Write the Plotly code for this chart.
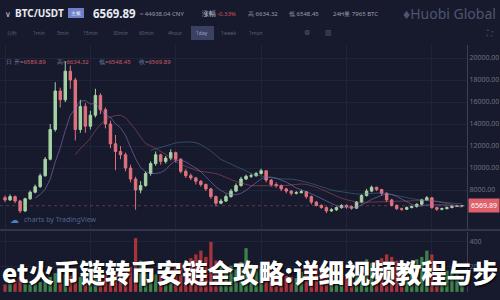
import plotly.graph_objects as go
import pandas as pd

# ---------------- data ----------------
closes = [7100, 7400, 7000, 6100, 7200, 7800, 8300, 9300, 10800, 13500,
          17000, 16200, 18800, 18000, 13500, 15600, 13800, 14800, 16600, 15300,
          14000, 12200, 11500, 11200, 10000, 9000, 8000, 8400, 9500, 10400,
          11200, 10600, 10900, 11400, 10800, 9700, 9300, 9100, 8800, 8500,
          8100, 7400, 6800, 7000, 7400, 7900, 8400, 9000, 9250, 9300,
          9500, 9750, 8900, 8500, 8400, 8100, 7900, 7700, 7750, 7850,
          7400, 6900, 6600, 6400, 6100, 6200, 6400, 6600, 6500, 6350,
          6900, 7500, 7900, 8250, 8050, 7700, 7100, 6600, 6300, 6250,
          6400, 6500, 6700, 7100, 7300, 6400, 6250, 6300, 6400, 6500,
          6550, 6569.89]
highs = [7500, 7600, 7500, 7100, 7300, 7950, 8500, 9500, 11000, 14000,
         17800, 17300, 19700, 19300, 18200, 16200, 15900, 15200, 17200, 16800,
         15500, 14300, 13000, 12000, 11400, 10300, 9200, 8800, 9700, 10600,
         11500, 11300, 11100, 11700, 11500, 10900, 9900, 9500, 9200, 8900,
         8600, 8200, 7500, 7200, 7600, 8100, 8600, 9200, 9400, 9500,
         9650, 9950, 9800, 9000, 8700, 8500, 8200, 8000, 7900, 8000,
         7900, 7500, 7000, 6700, 6500, 6350, 6500, 6700, 6700, 6600,
         7000, 7600, 8100, 8400, 8300, 8100, 7800, 7200, 6700, 6400,
         6500, 6600, 6800, 7200, 7450, 7350, 6500, 6400, 6500, 6600,
         6650, 6634.32]
lows = [6900, 7000, 6800, 5900, 6000, 7100, 7700, 8200, 9200, 10700,
        13300, 15500, 16000, 17200, 12500, 13200, 13200, 13500, 14600, 14900,
        13600, 11800, 9800, 10800, 9700, 8700, 6200, 7700, 8300, 9300,
        10200, 10300, 10400, 10700, 10500, 9500, 9100, 8900, 8500, 8300,
        7900, 7200, 6500, 6700, 6900, 7300, 7800, 8300, 8900, 9100,
        9200, 9400, 8700, 8300, 8200, 7900, 7700, 7500, 7600, 7700,
        7200, 6700, 6500, 6300, 5900, 6000, 6100, 6300, 6300, 6200,
        6300, 6800, 7400, 7800, 7900, 7500, 6900, 6500, 6200, 6100,
        6200, 6350, 6400, 6600, 7000, 6300, 6100, 6150, 6250, 6350,
        6450, 6548.45]
first_open = 7300
volumes = [60, 80, 90, 120, 70, 60, 70, 80, 90, 120,
           150, 110, 140, 130, 160, 120, 110, 100, 120, 100,
           130, 110, 150, 140, 170, 200, 430, 250, 180, 150,
           140, 160, 130, 120, 200, 230, 190, 270, 300, 330,
           280, 400, 250, 200, 190, 210, 180, 240, 350, 220,
           180, 200, 190, 170, 150, 140, 130, 120, 110, 160,
           180, 200, 230, 190, 170, 150, 140, 130, 120, 150,
           180, 200, 260, 230, 250, 270, 300, 280, 250, 220,
           200, 240, 260, 280, 330, 300, 220, 190, 170, 150,
           140, 130]
price_ticks = [8000, 10000, 12000, 14000, 16000, 18000, 20000]
price_tick_labels = ["8000.00", "10000.00", "12000.00",
                     "14000.00", "16000.00", "18000.00", "20000.00"]
vol_ticks = [200, 400]
vol_tick_labels = ["200", "400"]
last_price = 6569.89
toolbar_items = ["分时", "1min", "5min", "15min", "30min", "60min",
                 "4hour", "1day", "1week", "1mon"]
title_text = "et火币链转币安链全攻略:详细视频教程与步"

# --------------- derived ---------------
idx = list(range(len(closes)))
opens = [first_open] + closes[:-1]
up_col = "#a6d3a3"
dn_col = "#e0727e"
vol_up = "#3f7f4a"
vol_dn = "#a8333a"
vol_colors = [vol_up if c >= o else vol_dn for o, c in zip(opens, closes)]
s = pd.Series(closes)
ma_a = s.rolling(7).mean()
ma_b = s.rolling(15).mean()
ma_c = s.rolling(30).mean()

BG = "#161a2c"
GRID = "#1f2439"
AX = "#6b7088"
FONT = "Noto Sans"

fig = go.Figure()
fig.add_trace(go.Candlestick(
    x=idx, open=opens, high=highs, low=lows, close=closes,
    increasing=dict(line=dict(color=up_col, width=1), fillcolor=up_col),
    decreasing=dict(line=dict(color=dn_col, width=1), fillcolor=dn_col),
    whiskerwidth=0, xaxis="x", yaxis="y", showlegend=False, hoverinfo="skip"))
for ma, col in [(ma_a, "rgba(150,120,200,0.55)"), (ma_b, "rgba(200,90,120,0.45)"),
                (ma_c, "rgba(80,130,170,0.45)")]:
    fig.add_trace(go.Scatter(x=idx, y=ma, mode="lines", line=dict(color=col, width=1),
                             xaxis="x", yaxis="y", showlegend=False, hoverinfo="skip"))
fig.add_trace(go.Bar(x=idx, y=volumes, marker=dict(color=vol_colors, line=dict(width=0)),
                     xaxis="x2", yaxis="y2", showlegend=False, hoverinfo="skip"))

xdom = [0, 0.934]
fig.update_layout(
    width=500, height=300, margin=dict(l=0, r=0, t=0, b=0),
    paper_bgcolor=BG, plot_bgcolor=BG,
    font=dict(family=FONT, color=AX, size=7),
    bargap=0.35,
    xaxis=dict(domain=xdom, range=[-1, 92], showticklabels=False, rangeslider=dict(visible=False),
               showgrid=True, gridcolor=GRID, dtick=17, tick0=0, zeroline=False, anchor="y"),
    yaxis=dict(domain=[0.2333, 0.85], range=[4364, 21182], side="right", tickvals=price_ticks,
               ticktext=price_tick_labels, showgrid=True, gridcolor=GRID, zeroline=False,
               tickfont=dict(size=7, color=AX), showline=True, linecolor="#3a3f55", anchor="x"),
    xaxis2=dict(domain=xdom, range=[-1, 92], showticklabels=False, showgrid=True,
                gridcolor=GRID, dtick=17, tick0=0, zeroline=False, anchor="y2"),
    yaxis2=dict(domain=[0.027, 0.227], range=[0, 480], side="right", tickvals=vol_ticks,
                ticktext=vol_tick_labels, showgrid=True, gridcolor=GRID, zeroline=False,
                tickfont=dict(size=7, color=AX), showline=True, linecolor="#3a3f55", anchor="x2"),
)

shapes = []
shapes.append(dict(type="line", xref="x", yref="y", x0=-1, x1=92, y0=last_price, y1=last_price,
                   line=dict(color="rgba(224,114,126,0.35)", width=1, dash="dot")))
shapes.append(dict(type="line", xref="paper", yref="paper", x0=0, x1=1, y0=1 - 230 / 300,
                   y1=1 - 230 / 300, line=dict(color="#30354b", width=2)))
shapes.append(dict(type="rect", xref="paper", yref="paper", x0=191 / 500, x1=214 / 500,
                   y0=1 - 40 / 300, y1=1 - 26 / 300, fillcolor="#3a4163", line=dict(width=0)))
shapes.append(dict(type="rect", xref="paper", yref="paper", x0=68 / 500, x1=84 / 500,
                   y0=1 - 18 / 300, y1=1 - 8 / 300, fillcolor="#6f80c8", line=dict(width=0)))
fig.update_layout(shapes=shapes)


def px(x):
    return x / 500


def py(y):
    return 1 - y / 300


ann = []


def txt(x, y, t, size=7, color=AX, anchor="left", weight="normal", family=FONT):
    ann.append(dict(x=px(x), y=py(y), xref="paper", yref="paper", text=t, showarrow=False,
                    xanchor=anchor, yanchor="middle",
                    font=dict(size=size, color=color, family=family, weight=weight)))


# header row
txt(3, 13, "∨", 8, "#c8cbd8")
txt(13, 13, "BTC/USDT", 10, "#e8eaf2", weight="bold")
txt(76, 13, "主板", 5, "#ffffff", anchor="center")
txt(91, 13, "6569.89", 11.5, "#e8eaf2", weight="bold")
txt(138, 14, "≈ 44938.04 CNY", 6, "#9a9db0")
txt(200, 14, "涨幅", 7, "#c8cbd8")
txt(215, 14, "-0.33%", 6, "#d9505c")
txt(246, 14, "高 6634.32", 6, "#9a9db0")
txt(287, 14, "低 6548.45", 6, "#9a9db0")
txt(331, 14, "24H量 7965 BTC", 6, "#9a9db0")
txt(498, 14, "♦Huobi Global", 14, "#4f5570", anchor="right")
# toolbar
tb_x = [12, 39, 63, 90, 120, 146, 175, 202, 228, 256]
for x, t in zip(tb_x, toolbar_items):
    txt(x, 33, t, 5, "#5a6078" if t != "1day" else "#9aa2c8", anchor="center")
txt(307, 33, "⚙", 7, "#5a6078", anchor="center")
txt(328, 33, "▥", 7, "#5a6078", anchor="center")
txt(489, 33, "⛶", 8, "#5a6078", anchor="center")
# OHLC legend
txt(4, 62, "日", 6, "#7a80a0")
txt(12, 62, "开=<span style='color:#c85a66'>6589.89</span>", 6, "#7a80a0")
txt(55, 62, "高=<span style='color:#c85a66'>6634.32</span>", 6, "#7a80a0")
txt(97, 62, "低=<span style='color:#c85a66'>6548.45</span>", 6, "#7a80a0")
txt(137, 62, "收=<span style='color:#c85a66'>6569.89</span>", 6, "#7a80a0")
# tradingview credit
txt(8, 220, "☁", 9, "#4d7fb8")
txt(22, 220, "charts by TradingView", 7, "#4e6490")
# last price label
ann.append(dict(x=1, y=last_price, xref="paper", yref="y", text="6569.89", showarrow=False,
                xanchor="right", yanchor="middle", bgcolor="#e0606b", borderpad=2,
                font=dict(size=7, color="#ffffff", family=FONT)))
# overlay title
ann.append(dict(x=px(250), y=py(271), xref="paper", yref="paper", text=title_text, showarrow=False,
                xanchor="center", yanchor="middle",
                font=dict(size=25.6, color="#ffffff", family="Noto Sans CJK SC", weight=900,
                          shadow="1px 1px 2px #000000")))
fig.update_layout(annotations=ann)

fig.write_html("out.html")
